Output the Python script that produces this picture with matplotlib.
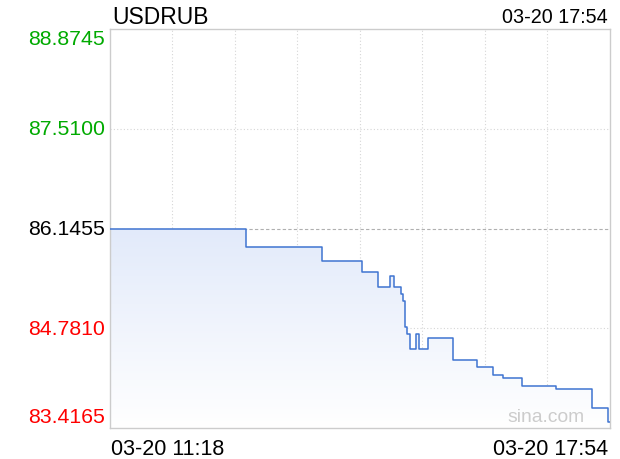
import numpy as np
import matplotlib
matplotlib.use('Agg')
import matplotlib.pyplot as plt
import matplotlib.transforms as mtransforms

plt.rcParams['font.family'] = ['Liberation Sans', 'DejaVu Sans']

# Dữ liệu (phút kể từ 11:18, giá USDRUB)
symbol = 'USDRUB'
last_time = '03-20 17:54'
x_labels = ['03-20 11:18', '03-20 17:54']
total_minutes = 396
prev_close = 86.1455
y_levels = [88.8745, 87.5100, 86.1455, 84.7810, 83.4165]

times = [0, 108, 168, 200, 213, 222, 225, 231, 232.5, 234, 236, 238,
         242.5, 245.5, 252.5, 272, 291, 304, 312, 326.5, 353.5, 382, 394.5, 396]
prices = [86.1455, 85.897, 85.697, 85.550, 85.345, 85.492, 85.345, 85.250,
          85.147, 84.798, 84.702, 84.497, 84.702, 84.497, 84.643, 84.347,
          84.247, 84.141, 84.096, 83.995, 83.950, 83.690, 83.494, 83.494]

W, H = 620, 460
fig = plt.figure(figsize=(W / 100, H / 100), dpi=100)
left, right, top, bottom = 109.5, 609.5, 30, 429
ax = fig.add_axes([left / W, 1 - bottom / H, (right - left) / W, (bottom - top) / H])

ymin, ymax = y_levels[-1], y_levels[0]
ax.set_xlim(0, total_minutes)
ax.set_ylim(ymin, ymax)

# Lưới
for k in range(1, 8):
    ax.axvline(total_minutes * k / 8, color='#d6d6d6', lw=0.8, ls=(0, (1, 2)), zorder=0)
for lv in y_levels[1:-1]:
    if lv == prev_close:
        ax.axhline(lv, color='#b0b0b0', lw=0.8, ls=(0, (3, 2)), zorder=0)
    else:
        ax.axhline(lv, color='#d6d6d6', lw=0.8, ls=(0, (1, 2)), zorder=0)

# Tô nền gradient dưới đường giá
poly = ax.fill_between(times, prices, ymin, step='post', color='none', lw=0)
grad = np.linspace(0, 1, 256).reshape(-1, 1)
cmap = matplotlib.colors.LinearSegmentedColormap.from_list('g', ['#ffffff', '#e2eafa'])
img = ax.imshow(grad, cmap=cmap, aspect='auto', origin='lower',
                extent=[0, total_minutes, ymin, max(prices)], zorder=1)
path = poly.get_paths()[0]
img.set_clip_path(path, ax.transData)

ax.plot(times, prices, drawstyle='steps-post', color='#3f74d1', lw=1.1, zorder=3)

ax.set_xticks([])
ax.set_yticks([])
for sp in ax.spines.values():
    sp.set_color('#cccccc')
    sp.set_linewidth(1.0)

# Nhãn trục y
trans = mtransforms.blended_transform_factory(ax.transAxes, ax.transData)
colors = ['#00aa00', '#00aa00', '#000000', '#ff0000', '#ff0000']
for i, lv in enumerate(y_levels):
    va = 'center'
    tr = trans
    if i == 0:
        va = 'top'
    elif i == len(y_levels) - 1:
        va = 'bottom'
        tr = trans + mtransforms.ScaledTranslation(0, 2 / 100, fig.dpi_scale_trans)
    ax.text(-0.009, lv, f'{lv:.4f}', transform=tr, ha='right', va=va,
            color=colors[i], fontsize=15.3)

# Nhãn trục x
ax.text(0.003, -10 / 399, x_labels[0], transform=ax.transAxes, ha='left', va='top', fontsize=15.5)
ax.text(0.997, -10 / 399, x_labels[1], transform=ax.transAxes, ha='right', va='top', fontsize=15.5)

fig.text(112 / W, 1 - 24 / H, symbol, ha='left', va='baseline', fontsize=16.5)
fig.text(608 / W, 1 - 23 / H, last_time, ha='right', va='baseline', fontsize=14.2)

ax.text(0.795, 7 / 399, 'sina.com', transform=ax.transAxes, ha='left', va='baseline',
        color='#cccccc', fontsize=13.9, zorder=4)

fig.savefig('out.png', dpi=100)
